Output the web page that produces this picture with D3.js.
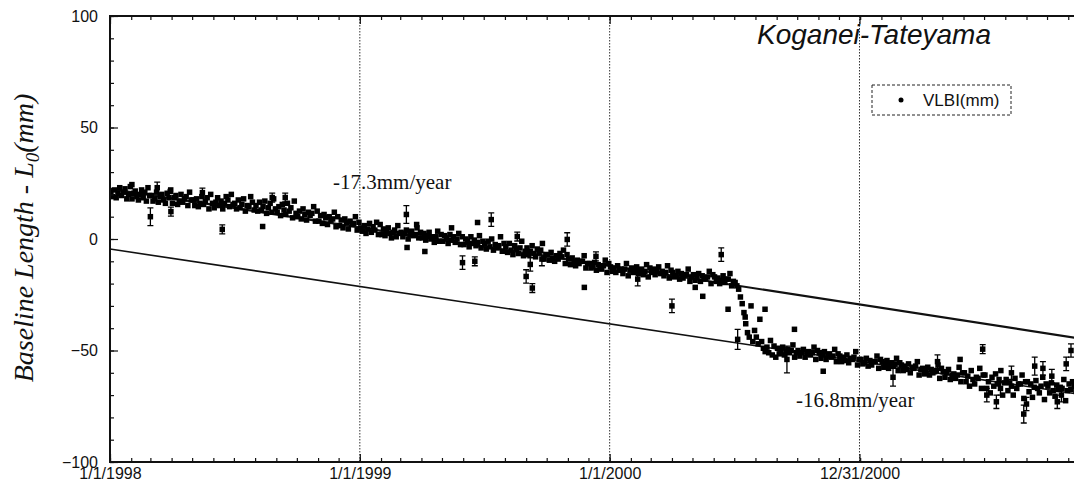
<!DOCTYPE html>
<html>
<head>
<meta charset="utf-8">
<script src="https://cdn.jsdelivr.net/npm/d3@7"></script>
<style>
body { margin: 0; background: #fff; }
svg { display: block; }
</style>
</head>
<body>
<div id="chart"></div>
<script>
// Data: daily-ish VLBI sessions, grouped by month (mm)
var months = [
    '1998-01', '1998-02', '1998-03', '1998-04', '1998-05', '1998-06',
    '1998-07', '1998-08', '1998-09', '1998-10', '1998-11', '1998-12',
    '1999-01', '1999-02', '1999-03', '1999-04', '1999-05', '1999-06',
    '1999-07', '1999-08', '1999-09', '1999-10', '1999-11', '1999-12',
    '2000-01', '2000-02', '2000-03', '2000-04', '2000-05', '2000-06',
    '2000-07', '2000-08', '2000-09', '2000-10', '2000-11', '2000-12',
    '2001-01', '2001-02', '2001-03', '2001-04', '2001-05', '2001-06',
    '2001-07', '2001-08', '2001-09', '2001-10', '2001-11'
];
var vlbi = [
    [21, 19, 22, 18.5, 20.5, 23, 19.5, 21, 22.5, 18, 20, 23.5],
    [18, 20.5, 21.5, 19, 17.5, 20, 22, 18.5, 21, 17, 23, 19.5],
    [19.5, 17, 18, 21, 16.5, 19, 20, 17.5, 16, 20.5, 18.5, 22],
    [16, 18.5, 19.5, 15.5, 17, 20, 16.5, 18, 19, 15, 21, 17.5],
    [17.5, 15, 18, 14.5, 16, 19, 15.5, 17, 18.5, 13.5, 20, 16],
    [14, 16.5, 18.5, 15, 17, 13.5, 16, 19, 17.5, 14.5, 20, 15.5],
    [16, 13.5, 17.5, 14, 15.5, 18, 12.5, 15, 14.5, 19, 16.5, 13],
    [15, 12.5, 16.5, 13, 14.5, 17, 11.5, 14, 16, 12, 18, 13.5],
    [12, 14.5, 10.5, 15.5, 13, 11, 16, 12.5, 14, 9.5, 17, 11.5],
    [10, 12.5, 9, 13.5, 11, 8.5, 12, 10.5, 11.5, 14.5, 8, 12.5],
    [8, 10.5, 7, 11, 9.5, 6.5, 10, 8.5, 9, 12, 5.5, 10],
    [6, 8.5, 5, 9, 7.5, 4.5, 8, 6.5, 7, 10, 4, 7.5],
    [5, 3.5, 6, 2.5, 4.5, 7, 3, 5.5, 4, 7.5, 2, 6.5],
    [2, 4.5, 1.5, 3.5, 5, 2.5, 0.5, 3, 4, 1, 6, 2.5],
    [3, 1, 2.5, 4, 0, 2, 3.5, 1.5, 2, 5, 0.5, 3],
    [0.5, 2.5, -0.5, 1.5, 3, 0, 1, -1.5, 1, 3.5, -1, 2],
    [-1, 1.5, 0.5, -2, 2, -0.5, 1, -1.5, 0, 2.5, -2.5, 1],
    [-2.5, 0, -1, -3.5, 1, -2, -0.5, -3, -1.5, 1.5, -4, -1],
    [-2, -4.5, -1, -3.5, 0, -5, -2.5, -4, -3, 1, -5.5, -2],
    [-3.5, -6, -2, -5, -7, -3, -4.5, -6.5, -4, -1, -7.5, -5.5],
    [-4, -7, -5.5, -3, -6.5, -8, -4.5, -6, -5, -2, -9, -7],
    [-7, -9.5, -6, -8.5, -10, -7.5, -9, -6.5, -8, -5, -11, -7],
    [-9, -11.5, -8.5, -10.5, -12, -9.5, -11, -10, -10, -7.5, -13, -11],
    [-11, -13, -12.5, -10.5, -14, -11.5, -12, -13.5, -12, -9.5, -15, -11],
    [-12.5, -14.5, -13, -15, -12, -14, -13.5, -15.5, -13.5, -11, -16.5, -14],
    [-13, -15, -14.5, -12.5, -15.5, -14, -13.5, -16, -14.5, -11.5, -17, -13],
    [-15, -13.5, -16, -14, -12.5, -15.5, -14.5, -16.5, -15, -12, -17.5, -14],
    [-15, -17, -16.5, -14.5, -18, -15.5, -17.5, -16, -16, -13.5, -19, -17],
    [-16, -18.5, -17, -15.5, -19, -16.5, -18, -17.5, -17, -14.5, -20, -16],
    [-17, -19, -17.5, -20, -18.5, -16.5, -19.5, -18, -18, -15.5, -21, -19],
    [-19.5, -21, -22.5, -26, -29, -33, -38, -42, -44, -30, -46, -41],
    [-44, -47, -36, -46, -49, -50.5, -48.5, -51, -45.5, -52, -48, -53],
    [-49, -51.5, -50, -48.5, -52, -50.5, -49.5, -51, -50, -47.5, -53, -51],
    [-50, -52.5, -51, -49.5, -53, -51.5, -50.5, -52, -51, -48.5, -54, -50],
    [-51, -53.5, -52, -50.5, -54, -52.5, -51.5, -53, -52.5, -49.5, -55, -51.5],
    [-52.5, -55, -53, -54.5, -52, -55.5, -53.5, -54, -53, -50.5, -56.5, -54],
    [-54, -56, -55.5, -53.5, -57, -54.5, -56.5, -55, -55, -52.5, -58, -54],
    [-55, -57.5, -56, -54.5, -58, -56.5, -55.5, -57, -56, -53.5, -59, -55.5],
    [-56.5, -59, -57, -58.5, -56, -60, -57.5, -58, -57, -55, -61, -58.5],
    [-58, -60.5, -59, -57.5, -61, -58.5, -60, -59.5, -59, -56.5, -62.5, -58],
    [-59.5, -62, -60, -58.5, -63, -61, -60.5, -62.5, -61, -57.5, -64, -60],
    [-60, -64, -61.5, -66, -59, -63, -65, -62, -62.5, -58, -67, -61],
    [-61, -67, -64, -69, -62, -66, -60.5, -65, -63, -59, -70, -64.5],
    [-63, -68, -64.5, -66, -70, -62.5, -67, -65, -65, -61, -71.5, -64],
    [-64, -68.5, -65, -71, -66.5, -63.5, -67, -69, -66, -62, -72, -65],
    [-66, -69, -64.5, -68, -70.5, -65.5, -67.5, -66.5, -67, -63, -72.5, -68],
    [-65, -67.5, -64, -66, -68, -65.5, -66.5, -67, -66, -62.5, -69.5, -65]
];

// Sessions away from the trend, with their error bars (mm)
var outDates = [
    '1998-02-02', '1998-03-01', '1998-03-11', '1998-03-30', '1998-03-31',
    '1998-05-16', '1998-06-14', '1998-08-12', '1998-08-26', '1998-09-14',
    '1999-03-10', '1999-03-11', '1999-03-25', '1999-04-06', '1999-05-15',
    '1999-05-31', '1999-06-18', '1999-06-22', '1999-07-12', '1999-08-19',
    '1999-09-01', '1999-09-07', '1999-09-10', '1999-09-24', '1999-10-31',
    '1999-11-25', '1999-12-12', '2000-02-11', '2000-04-01', '2000-05-05',
    '2000-05-16', '2000-06-12', '2000-06-22', '2000-07-06', '2000-07-17',
    '2000-08-15', '2000-09-16', '2000-09-27', '2000-11-08', '2001-02-18',
    '2001-04-24', '2001-05-27', '2001-06-29', '2001-07-05', '2001-07-19',
    '2001-07-25', '2001-08-10', '2001-08-28', '2001-09-01', '2001-09-13',
    '2001-09-25', '2001-10-08', '2001-10-16', '2001-10-22', '2001-10-29',
    '2001-11-05'
];
var outValues = [
    24.4, 10, 23, 21.3, 12.3,
    20.8, 4.3, 5.6, 18.6, 18.6,
    11, -3.8, 6.5, -5.6, 5,
    -10.6, -10, 7.4, 8.7, 1.1,
    -16.8, -11.4, -22, -9, -0.2,
    -21.7, -7.8, -18, -30, -21.7,
    -25.7, -7, -31.5, -45, -35,
    -31.5, -54, -40.5, -59.3, -62,
    -55, -54, -49.4, -70, -73,
    -67, -60, -78.5, -74, -57,
    -58, -61.5, -73, -70, -56,
    -50
];
var outErrors = [
    0, 4, 2.5, 0, 2,
    2, 2, 0, 2, 2,
    4, 0, 0, 0, 0,
    3, 2, 0, 3, 2,
    3, 3, 2, 3, 3,
    0, 2, 3, 3, 0,
    0, 3, 0, 4.5, 0,
    0, 6, 0, 0, 4,
    3, 0, 2, 3, 3,
    3, 3, 4, 3, 4,
    3, 3, 3, 3, 3,
    3
];

// Fitted trends
var lineDates = ['1998-01-01', '2002-01-01'];
var upperFit = [22.5, -46.7];
var lowerFit = [-4.5, -71.7];

// Ticks
var yTicks = [-100, -50, 0, 50, 100];
var xTickDates = ['1998-01-01', '1999-01-01', '2000-01-01', '2000-12-31'];
var xTickLabels = ['1/1/1998', '1/1/1999', '1/1/2000', '12/31/2000'];
var gridDates = ['1999-01-01', '2000-01-01', '2000-12-31'];

var W = 1074, H = 488;
var mLeft = 110, mTop = 16, mBottom = 462, mRight = 1110;
var sans = '"Liberation Sans", Arial, Helvetica, sans-serif';
var serif = '"Liberation Serif", "Times New Roman", serif';

var parseDay = d3.timeParse('%Y-%m-%d');
var parseMonth = d3.timeParse('%Y-%m');

var svg = d3.select('#chart').append('svg')
    .attr('width', W)
    .attr('height', H)
    .style('font-family', sans)
;

// Scale
var x = d3.scaleTime()
    .domain([parseDay('1998-01-01'), parseDay('2002-01-01')])
    .range([mLeft, mRight])
;
var y = d3.scaleLinear()
    .domain([-100, 100])
    .range([mBottom, mTop])
;

// Flatten the monthly groups into dated points
var points = [];
months.forEach(function (m, i) {
    var start = parseMonth(m);
    var end = d3.timeMonth.offset(start, 1);
    var vals = vlbi[i];
    vals.forEach(function (v, j) {
        var t = new Date(+start + (j + 0.5) / vals.length * (end - start));
        points.push({ date: t, value: v });
    });
});
var outliers = outDates.map(function (d, i) {
    return { date: parseDay(d), value: outValues[i], err: outErrors[i] };
});

svg.append('clipPath')
    .attr('id', 'plot-clip')
    .append('rect')
    .attr('x', mLeft)
    .attr('y', mTop)
    .attr('width', mRight - mLeft)
    .attr('height', mBottom - mTop)
;
var plot = svg.append('g').attr('clip-path', 'url(#plot-clip)');

// Grid lines
plot.selectAll('line.grid')
    .data(gridDates.map(parseDay))
    .enter()
    .append('line')
    .attr('class', 'grid')
    .attr('x1', function (d) { return x(d); })
    .attr('x2', function (d) { return x(d); })
    .attr('y1', mTop)
    .attr('y2', mBottom)
    .attr('stroke', '#333')
    .attr('stroke-width', 1)
    .attr('stroke-dasharray', '1.5,1.5')
;

// Trend lines
var line = d3.line()
    .x(function (d) { return x(d.date); })
    .y(function (d) { return y(d.value); })
;
[upperFit, lowerFit].forEach(function (fit, k) {
    plot.append('path')
        .datum(lineDates.map(function (d, i) {
            return { date: parseDay(d), value: fit[i] };
        }))
        .attr('d', line)
        .attr('fill', 'none')
        .attr('stroke', '#111')
        .attr('stroke-width', k === 0 ? 2.2 : 1.6)
    ;
});

// Plot
var ms = 5.5;
plot.selectAll('rect.pt')
    .data(points)
    .enter()
    .append('rect')
    .attr('class', 'pt')
    .attr('x', function (d) { return x(d.date) - ms / 2; })
    .attr('y', function (d) { return y(d.value) - ms / 2; })
    .attr('width', ms)
    .attr('height', ms)
    .attr('fill', '#000')
;

var eb = plot.selectAll('g.out')
    .data(outliers)
    .enter()
    .append('g')
    .attr('class', 'out')
;
eb.filter(function (d) { return d.err > 0; })
    .append('path')
    .attr('d', function (d) {
        var cx = x(d.date), y0 = y(d.value - d.err), y1 = y(d.value + d.err);
        return 'M' + cx + ',' + y0 + 'V' + y1 +
            'M' + (cx - 3) + ',' + y0 + 'H' + (cx + 3) +
            'M' + (cx - 3) + ',' + y1 + 'H' + (cx + 3);
    })
    .attr('stroke', '#000')
    .attr('stroke-width', 1.3)
    .attr('fill', 'none')
;
eb.append('rect')
    .attr('x', function (d) { return x(d.date) - ms / 2; })
    .attr('y', function (d) { return y(d.value) - ms / 2; })
    .attr('width', ms)
    .attr('height', ms)
    .attr('fill', '#000')
;

// Axes
var monthTicks = d3.timeMonth.range(parseDay('1998-01-01'), parseDay('2002-01-01'));
var majorDates = xTickDates.map(parseDay);

function styleAxis(g) {
    g.select('.domain').remove();
    g.selectAll('line').attr('stroke', '#111').attr('stroke-width', 1.2);
    g.selectAll('text').attr('fill', '#111').style('font-size', '16px').style('font-family', sans);
}

svg.append('g')
    .attr('transform', 'translate(0,' + mBottom + ')')
    .call(d3.axisBottom(x).tickValues(monthTicks).tickSize(-4).tickFormat(''))
    .call(styleAxis)
;
svg.append('g')
    .attr('transform', 'translate(0,' + mBottom + ')')
    .call(d3.axisBottom(x).tickValues(majorDates).tickSize(-8).tickPadding(6)
        .tickFormat(function (d, i) { return xTickLabels[i]; }))
    .call(styleAxis)
;
svg.append('g')
    .attr('transform', 'translate(0,' + mTop + ')')
    .call(d3.axisTop(x).tickValues(monthTicks).tickSize(-4).tickFormat(''))
    .call(styleAxis)
;
svg.append('g')
    .attr('transform', 'translate(0,' + mTop + ')')
    .call(d3.axisTop(x).tickValues(majorDates).tickSize(-8).tickFormat(''))
    .call(styleAxis)
;
svg.append('g')
    .attr('transform', 'translate(' + mLeft + ',0)')
    .call(d3.axisLeft(y).tickValues(d3.range(-100, 101, 10)).tickSize(-4).tickFormat(''))
    .call(styleAxis)
;
svg.append('g')
    .attr('transform', 'translate(' + mLeft + ',0)')
    .call(d3.axisLeft(y).tickValues(yTicks).tickSize(-8).tickPadding(12).tickFormat(d3.format('d')))
    .call(styleAxis)
;

// Frame
svg.append('path')
    .attr('d', 'M' + mRight + ',' + mTop + 'H' + mLeft + 'V' + mBottom + 'H' + mRight)
    .attr('fill', 'none')
    .attr('stroke', '#111')
    .attr('stroke-width', 2)
;

// Y axis label
var ylab = svg.append('text')
    .attr('transform', 'translate(33,238) rotate(-90)')
    .attr('text-anchor', 'middle')
    .attr('font-family', serif)
    .attr('font-style', 'italic')
    .attr('font-size', '28px')
    .attr('fill', '#111')
;
ylab.append('tspan').text('Baseline Length - L');
ylab.append('tspan').attr('dy', 6).attr('font-size', '19px').text('0');
ylab.append('tspan').attr('dy', -6).text('(mm)');

// Title
svg.append('text')
    .attr('x', 757)
    .attr('y', 44)
    .attr('font-style', 'italic')
    .attr('font-size', '28px')
    .attr('fill', '#111')
    .text('Koganei-Tateyama')
;

// Rate annotations
svg.append('text')
    .attr('x', 333)
    .attr('y', 189)
    .attr('font-family', serif)
    .attr('font-size', '21px')
    .attr('fill', '#111')
    .text('-17.3mm/year')
;
svg.append('text')
    .attr('x', 796)
    .attr('y', 407)
    .attr('font-family', serif)
    .attr('font-size', '21px')
    .attr('fill', '#111')
    .text('-16.8mm/year')
;

// Legend
var legend = svg.append('g').attr('transform', 'translate(872,85)');
legend.append('rect')
    .attr('width', 139)
    .attr('height', 30)
    .attr('fill', '#fff')
    .attr('stroke', '#222')
    .attr('stroke-width', 1)
    .attr('stroke-dasharray', '3,2')
;
legend.append('circle')
    .attr('cx', 29)
    .attr('cy', 15)
    .attr('r', 2.5)
    .attr('fill', '#000')
;
legend.append('text')
    .attr('x', 51)
    .attr('y', 21)
    .attr('font-size', '17px')
    .attr('fill', '#111')
    .text('VLBI(mm)')
;
</script>
</body>
</html>
